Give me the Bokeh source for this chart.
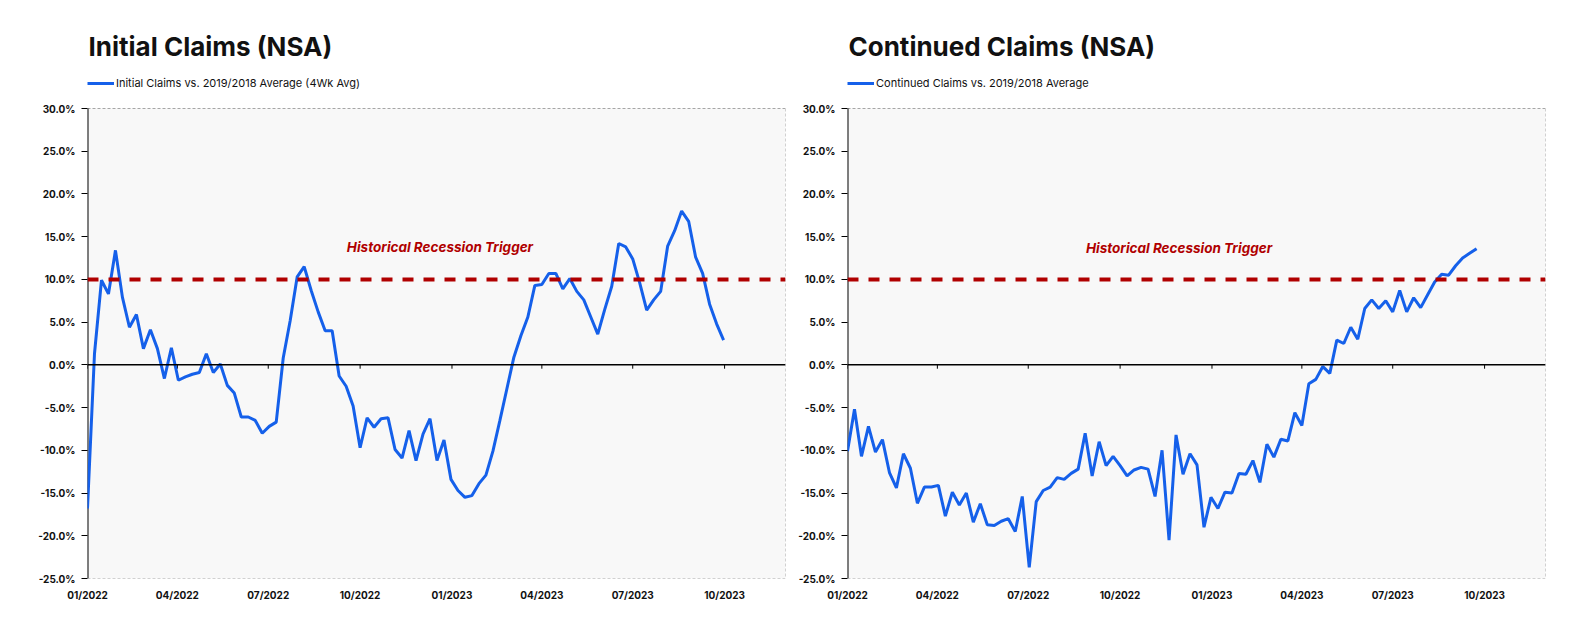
import pandas as pd
from bokeh.plotting import figure
from bokeh.models import (ColumnDataSource, Span, Label, Legend, LegendItem, FixedTicker,
                          PrintfTickFormatter, Range1d)
from bokeh.layouts import row
from bokeh.embed import file_html
from bokeh.resources import INLINE

# ---------------- data ----------------
start_date = "2022-01-01"   # first weekly observation (weeks ending Saturday)

initial_claims = [
    -16.8, 1.3, 9.9, 8.3, 13.4, 7.9, 4.4, 5.9, 1.9, 4.1,
    1.9, -1.6, 2.0, -1.8, -1.4, -1.1, -0.9, 1.3, -0.9, 0.1,
    -2.4, -3.3, -6.1, -6.1, -6.5, -8.0, -7.2, -6.7, 0.8, 5.2,
    10.3, 11.5, 8.7, 6.2, 4.0, 4.0, -1.3, -2.5, -4.8, -9.7,
    -6.2, -7.3, -6.3, -6.2, -9.9, -10.9, -7.7, -11.2, -8.1, -6.3,
    -11.2, -8.8, -13.4, -14.7, -15.5, -15.3, -13.9, -12.9, -10.1, -6.5,
    -2.8, 0.9, 3.4, 5.6, 9.3, 9.4, 10.7, 10.7, 8.9, 10.1,
    8.6, 7.6, 5.6, 3.6, 6.5, 9.2, 14.2, 13.8, 12.4, 9.6,
    6.4, 7.6, 8.6, 13.9, 15.7, 18.0, 16.8, 12.6, 10.7, 7.1,
    4.8, 2.9,
]

continued_claims = [
    -10.1, -5.2, -10.7, -7.2, -10.2, -8.75, -12.6, -14.4, -10.4, -12.1,
    -16.2, -14.3, -14.3, -14.1, -17.7, -14.9, -16.4, -15.0, -18.4, -16.25,
    -18.7, -18.8, -18.3, -18.0, -19.5, -15.4, -23.7, -16.0, -14.7, -14.3,
    -13.2, -13.4, -12.7, -12.2, -8.0, -13.0, -9.0, -11.8, -10.7, -11.8,
    -13.0, -12.3, -12.0, -12.2, -15.4, -10.0, -20.5, -8.2, -12.8, -10.4,
    -11.7, -19.0, -15.5, -16.8, -14.9, -15.0, -12.7, -12.8, -11.2, -13.75,
    -9.3, -10.8, -8.7, -8.9, -5.6, -7.1, -2.2, -1.7, -0.2, -1.0,
    2.9, 2.5, 4.4, 3.0, 6.6, 7.6, 6.6, 7.5, 6.2, 8.7,
    6.2, 7.85, 6.7, 8.2, 9.7, 10.6, 10.5, 11.6, 12.5, 13.05,
    13.6,
]

x_tick_dates = ["2022-01-01", "2022-04-01", "2022-07-01", "2022-10-01",
                "2023-01-01", "2023-04-01", "2023-07-01", "2023-10-01"]
x_tick_labels = ["01/2022", "04/2022", "07/2022", "10/2022",
                 "01/2023", "04/2023", "07/2023", "10/2023"]
y_ticks = [-25, -20, -15, -10, -5, 0, 5, 10, 15, 20, 25, 30]
trigger_level = 10.0
trigger_text = "Historical Recession Trigger"
x_start, x_end = "2022-01-01", "2023-12-01"
y_start, y_end = -25, 30

titles = ["Initial Claims (NSA)", "Continued Claims (NSA)"]
legend_labels = ["Initial Claims vs. 2019/2018 Average (4Wk Avg)",
                 "Continued Claims vs. 2019/2018 Average"]
trigger_label_pos = [("2022-12-20", 13.85), ("2022-11-29", 13.7)]

# ---------------- style / layout ----------------
BLUE = "#1560EA"
RED = "#B00000"
FONT = "Inter"
PLOT_BG = "#f8f8f8"
BORDER = "#a6a6a6"
PX_PER_UNIT = 8.545          # vertical pixels per percentage point
LEGEND_ROOM = 38             # pixels above the 30% line kept for the legend
y_top = y_end + LEGEND_ROOM / PX_PER_UNIT


def ms(d):
    return pd.Timestamp(d).value // 10**6


tick_ms = [ms(d) for d in x_tick_dates]


def make_chart(values, title, legend_label, label_pos, width, border_left, border_right):
    dates = pd.date_range(start_date, periods=len(values), freq="7D")
    src = ColumnDataSource(dict(date=dates, val=values))
    xs, xe = ms(x_start), ms(x_end)

    p = figure(x_axis_type="datetime", width=width, height=608,
               x_range=Range1d(xs, xe), y_range=Range1d(y_start, y_top),
               output_backend="svg", toolbar_location=None,
               min_border_left=border_left, min_border_right=border_right,
               min_border_top=70, min_border_bottom=30,
               background_fill_color="white", border_fill_color="white",
               outline_line_color=None)

    p.title.text = title
    p.title.text_font = FONT
    p.title.text_font_size = "26px"
    p.title.text_font_style = "bold"
    p.title.text_color = "#111111"
    p.title.align = "left"
    p.title.offset = 1
    p.title.standoff = 17

    p.grid.visible = False

    # plot area background and dashed border (top, right, bottom)
    p.quad(left=[xs], right=[xe], bottom=[y_start], top=[y_end],
           fill_color=PLOT_BG, line_color=None, level="underlay")
    p.multi_line(xs=[[xs, xe], [xe, xe], [xs, xe]],
                 ys=[[y_end, y_end], [y_end, y_start], [y_start, y_start]],
                 line_color=BORDER, line_dash="3 2", line_width=1)
    # left axis line
    p.segment(x0=[xs], y0=[y_start], x1=[xs], y1=[y_end], line_color="black", line_width=2)

    # zero line and trigger line
    p.add_layout(Span(location=0, dimension="width", line_color="black", line_width=1.5))
    p.add_layout(Span(location=trigger_level, dimension="width", line_color=RED,
                      line_width=4, line_dash="11 10"))

    # tick marks hanging from the zero line
    tsrc = ColumnDataSource(dict(x=tick_ms, y0=[0] * len(tick_ms), y1=[-0.45] * len(tick_ms)))
    p.segment(x0="x", y0="y0", x1="x", y1="y1", source=tsrc, line_color="black", line_width=1)

    r = p.line("date", "val", source=src, line_color=BLUE, line_width=3)

    p.add_layout(Label(x=ms(label_pos[0]), y=label_pos[1], text=trigger_text,
                       text_align="center", text_baseline="middle",
                       text_font=FONT, text_font_size="13.5px",
                       text_font_style="bold italic", text_color=RED))

    legend = Legend(items=[LegendItem(label=legend_label, renderers=[r])],
                    location="top_left", orientation="horizontal",
                    padding=0, margin=0, spacing=0,
                    border_line_color=None, background_fill_alpha=0,
                    glyph_width=27, glyph_height=26, label_height=26,
                    label_standoff=2, label_text_font=FONT,
                    label_text_font_size="11px", label_text_color="#111111")
    p.add_layout(legend)

    # y axis
    p.yaxis.ticker = FixedTicker(ticks=y_ticks)
    p.yaxis.formatter = PrintfTickFormatter(format="%.1f%%")
    p.yaxis.axis_line_color = None
    p.yaxis.major_tick_line_color = "black"
    p.yaxis.major_tick_out = 6
    p.yaxis.major_tick_in = 0
    p.yaxis.minor_tick_line_color = None
    p.yaxis.major_label_standoff = 6
    p.yaxis.major_label_text_font = FONT
    p.yaxis.major_label_text_font_size = "10px"
    p.yaxis.major_label_text_font_style = "bold"
    p.yaxis.major_label_text_color = "#111111"

    # x axis (labels only; ticks drawn at the zero line)
    p.xaxis.ticker = FixedTicker(ticks=tick_ms)
    p.xaxis.major_label_overrides = {t: lab for t, lab in zip(tick_ms, x_tick_labels)}
    p.xaxis.axis_line_color = None
    p.xaxis.major_tick_line_color = None
    p.xaxis.minor_tick_line_color = None
    p.xaxis.major_label_standoff = 4
    p.xaxis.major_label_text_font = FONT
    p.xaxis.major_label_text_font_size = "10px"
    p.xaxis.major_label_text_font_style = "bold"
    p.xaxis.major_label_text_color = "#111111"
    return p


p1 = make_chart(initial_claims, titles[0], legend_labels[0], trigger_label_pos[0],
                width=790, border_left=87, border_right=5)
p2 = make_chart(continued_claims, titles[1], legend_labels[1], trigger_label_pos[1],
                width=778, border_left=57, border_right=23)

layout = row(p1, p2, spacing=0)
open("out.html", "w").write(file_html(layout, INLINE))
